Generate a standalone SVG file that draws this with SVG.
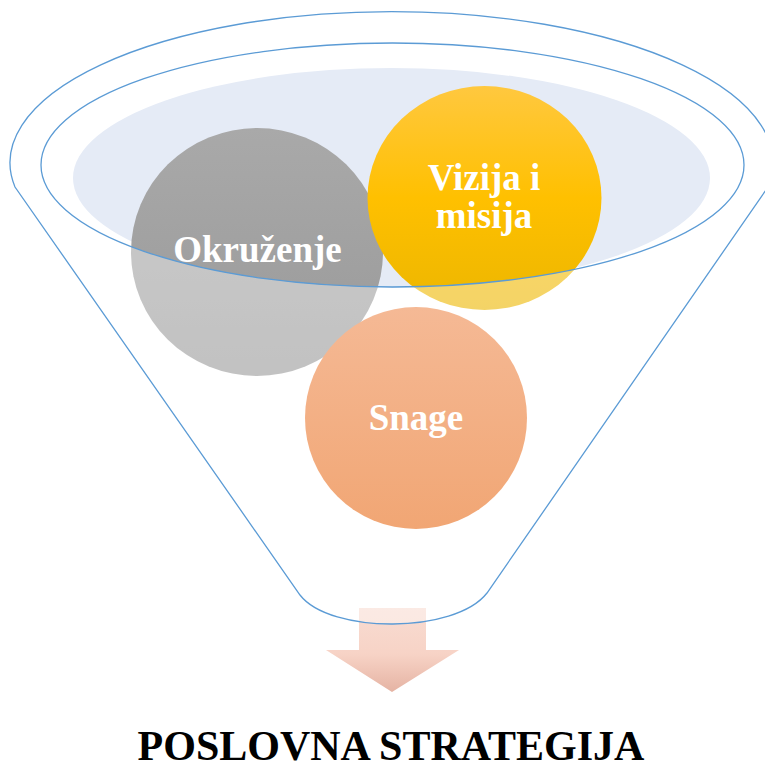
<svg xmlns="http://www.w3.org/2000/svg" width="765" height="764" viewBox="0 0 765 764">
<defs>
<style>
.line{fill:none;stroke:#5B9BD5;stroke-width:1.3}
.lbl{font-family:"Liberation Serif","Times New Roman",serif;font-weight:bold;font-size:37px;fill:#FFFFFF;text-anchor:middle}
.title{font-family:"Liberation Serif","Times New Roman",serif;font-weight:bold;font-size:42px;fill:#000000;text-anchor:middle}
</style>
<linearGradient id="gGray" x1="0" y1="0" x2="0" y2="1">
<stop offset="0" stop-color="#A9A9A9"/>
<stop offset="1" stop-color="#999999"/>
</linearGradient>
<linearGradient id="gYellow" x1="0" y1="0" x2="0" y2="1">
<stop offset="0" stop-color="#FFC83F"/>
<stop offset="0.5" stop-color="#FFC000"/>
<stop offset="1" stop-color="#ECB600"/>
</linearGradient>
<linearGradient id="gOrange" x1="0" y1="0" x2="0" y2="1">
<stop offset="0" stop-color="#F5B995"/>
<stop offset="1" stop-color="#F1A674"/>
</linearGradient>
<linearGradient id="gArrow" x1="0" y1="0" x2="0" y2="1">
<stop offset="0" stop-color="#F8DCD2"/>
<stop offset="0.55" stop-color="#F7D3C6"/>
<stop offset="1" stop-color="#E5B3A3"/>
</linearGradient>
</defs>
<rect width="765" height="764" fill="#FFFFFF"/>
<g id="funnel-top">
<ellipse cx="391.5" cy="178" rx="318.5" ry="110" fill="#E5EBF6"/>
</g>
<g id="okruzenje">
<ellipse cx="257" cy="252" rx="126" ry="124" fill="url(#gGray)"/>
</g>
<g id="vizija">
<ellipse cx="484.5" cy="198" rx="117" ry="112" fill="url(#gYellow)"/>
</g>
<g id="connectors">
<path d="M359,608 H426 V650 H459 L392,692 L326,650 H359 Z" fill="url(#gArrow)"/>
</g>
<g id="funnel">
<path d="M15,187 A381.5,151 0 1 1 768,187 L487,593 C455,634 330,634 300,595 Z M41,165 A351.5,122 0 1 0 744,165 A351.5,122 0 1 0 41,165 Z" fill="#FFFFFF" fill-opacity="0.4" fill-rule="evenodd"/>
</g>
<g id="snage">
<circle cx="416" cy="418" r="111" fill="url(#gOrange)"/>
<text class="lbl" x="416" y="430">Snage</text>
</g>
<g id="funnel-outline">
<path class="line" d="M15,187 A381.5,151 0 1 1 768,187 L487,593 C455,634 330,634 300,595 Z"/>
<ellipse class="line" cx="392.5" cy="165" rx="351.5" ry="122"/>
</g>
<g id="labels">
<text class="lbl" x="257.5" y="262">Okruženje</text>
<text class="lbl" x="484" y="190">Vizija i</text>
<text class="lbl" x="484" y="228">misija</text>
</g>
<g id="title">
<text class="title" x="391" y="760">POSLOVNA STRATEGIJA</text>
</g>
</svg>
